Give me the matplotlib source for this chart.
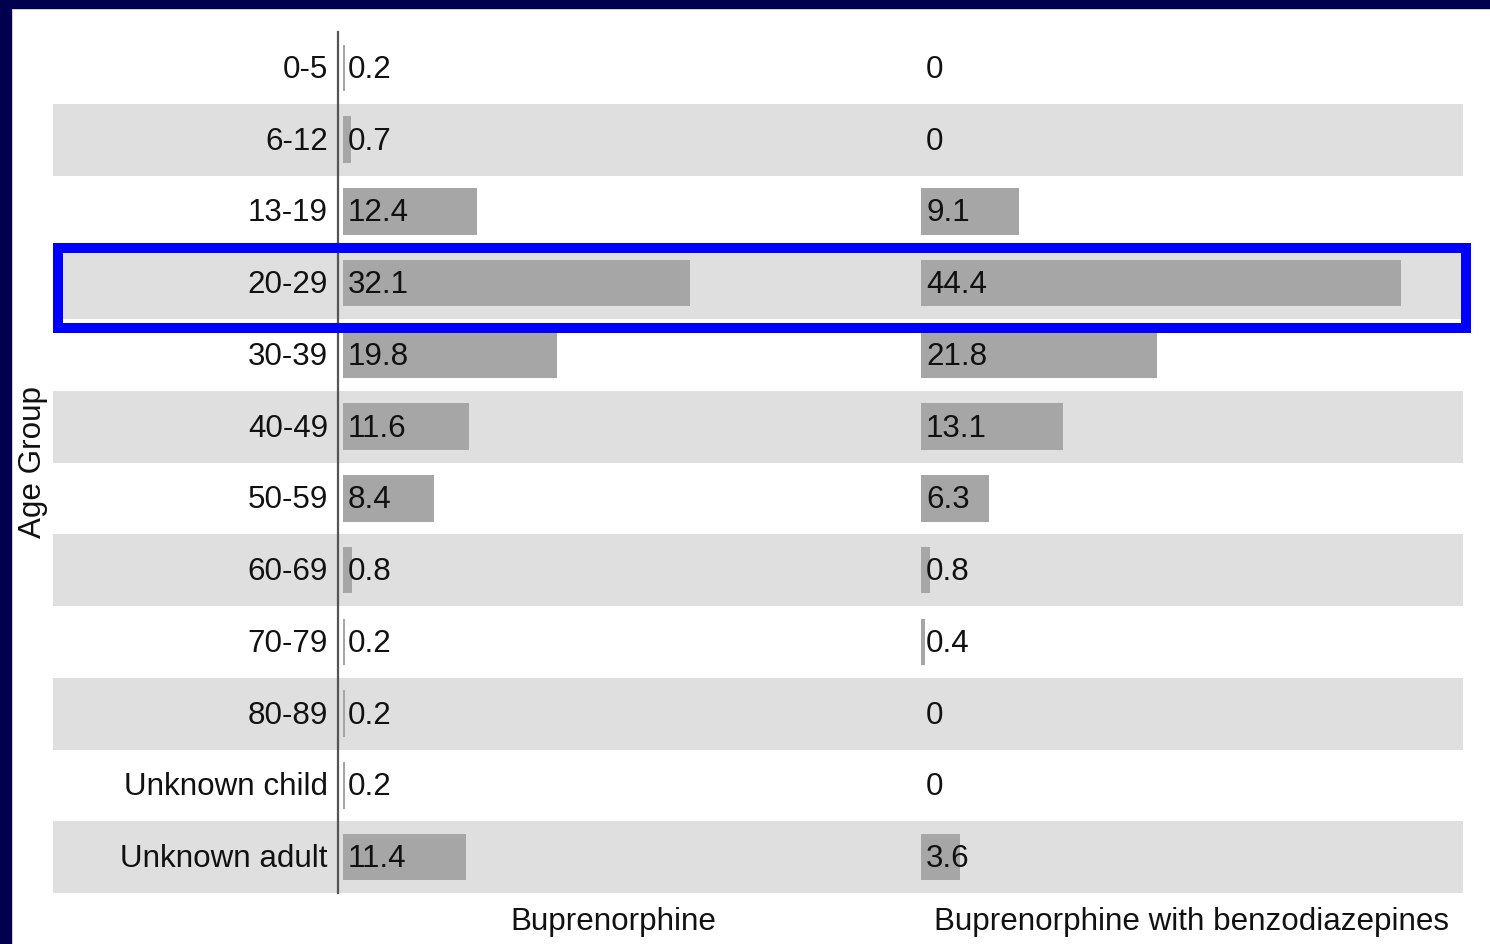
import matplotlib
matplotlib.use("Agg")
import matplotlib.pyplot as plt
from matplotlib.patches import Rectangle
from matplotlib.transforms import offset_copy

plt.rcParams["font.family"] = ["Liberation Sans", "DejaVu Sans"]

age_groups = ["0-5", "6-12", "13-19", "20-29", "30-39", "40-49", "50-59",
              "60-69", "70-79", "80-89", "Unknown child", "Unknown adult"]
bup_only = [0.2, 0.7, 12.4, 32.1, 19.8, 11.6, 8.4, 0.8, 0.2, 0.2, 0.2, 11.4]
bup_benzo = [0, 0, 9.1, 44.4, 21.8, 13.1, 6.3, 0.8, 0.4, 0, 0, 3.6]
panel_titles = ["Buprenorphine", "Buprenorphine with benzodiazepines"]
highlight_row = "20-29"

W, H = 1490, 944
fig = plt.figure(figsize=(W / 100, H / 100), dpi=100)
fig.patch.set_facecolor("white")

# dark slide frame along the top and left edges
navy = "#00004e"
fig.add_artist(Rectangle((0, 1 - 8 / H), 1, 8 / H, transform=fig.transFigure,
                         color=navy, zorder=0))
fig.add_artist(Rectangle((0, 0), 11 / W, 1, transform=fig.transFigure,
                         color=navy, zorder=0))

# one axes covering the striped table; x in percent units, 10.82 px per unit
px_per_unit = 10.82
x0_px, x1_px = 53, 1463
zero_px = 343
y_top, y_bot = 32, 893
ax = fig.add_axes([x0_px / W, (H - y_bot) / H, (x1_px - x0_px) / W,
                   (y_bot - y_top) / H])
ax.set_xlim((x0_px - zero_px) / px_per_unit, (x1_px - zero_px) / px_per_unit)
ax.set_ylim(len(age_groups) - 0.5, -0.5)
ax.axis("off")

offset2 = (921 - zero_px) / px_per_unit
panel_width = 50

rows = list(range(len(age_groups)))
for i in rows:
    if i % 2 == 1:
        ax.axhspan(i - 0.5, i + 0.5, color="#dfdfdf", zorder=0, lw=0)

bar_h = 0.65
ax.barh(rows, bup_only, left=0, height=bar_h, color="#a6a6a6", zorder=2)
ax.barh(rows, bup_benzo, left=offset2, height=bar_h, color="#a6a6a6", zorder=2)

# axis line of the left panel
ax.plot([-0.46, -0.46], [-0.5, len(age_groups) - 0.5], color="#555555",
        lw=1.6, zorder=3, clip_on=False)

fs = 22.6
txt = "#111111"
lbl_tf = offset_copy(ax.transData, fig=fig, x=5, y=-2, units="dots")
for i, (a, b) in enumerate(zip(bup_only, bup_benzo)):
    ax.text(0, i, f"{a:g}", transform=lbl_tf, ha="left", va="center",
            fontsize=fs, color=txt, zorder=4)
    ax.text(offset2, i, f"{b:g}", transform=lbl_tf, ha="left", va="center",
            fontsize=fs, color=txt, zorder=4)

cat_tf = offset_copy(ax.transData, fig=fig, x=-15, y=-2, units="dots")
for i, g in enumerate(age_groups):
    ax.text(0, i, g, transform=cat_tf, ha="right", va="center",
            fontsize=fs, color=txt)

title_tf = offset_copy(ax.transData, fig=fig, x=0, y=-14, units="dots")
for x_start, title in zip([0, offset2], panel_titles):
    ax.text(x_start + panel_width / 2, len(age_groups) - 0.5, title,
            ha="center", va="top", fontsize=fs, color=txt,
            transform=title_tf, clip_on=False)

fig.text(33 / W, 1 - 462 / H, "Age Group", rotation=90, ha="center",
         va="center", fontsize=fs, color=txt)

# highlight box around one age group
hi = age_groups.index(highlight_row)
y_hi_top = ax.transData.transform((0, hi - 0.5))[1] - 1
y_hi_bot = ax.transData.transform((0, hi + 0.5))[1] - 9
fig.add_artist(Rectangle((58 / W, y_hi_bot / H), (1466 - 58) / W,
                         (y_hi_top - y_hi_bot) / H,
                         transform=fig.transFigure, fill=False,
                         edgecolor="#0000ff", lw=7.2, zorder=10))

fig.savefig("out.png", dpi=100, facecolor=fig.get_facecolor())
